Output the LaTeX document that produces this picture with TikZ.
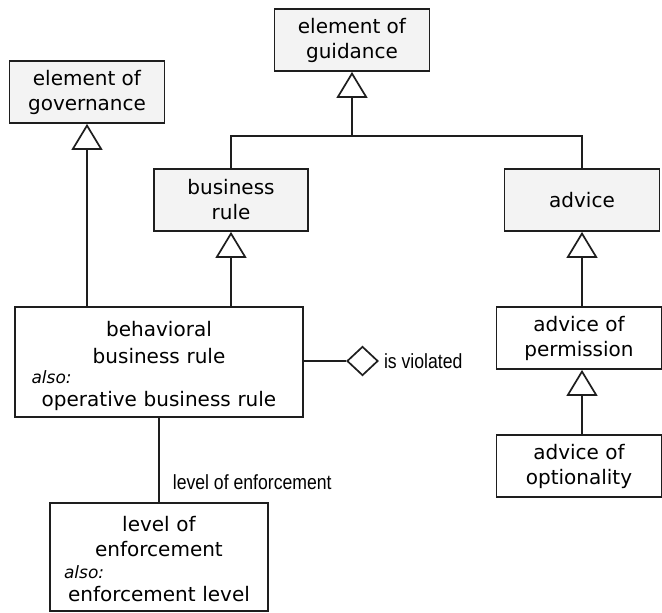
\documentclass[tikz,border=0pt]{standalone}
\usepackage{fontspec}
\setmainfont{DejaVu Sans}
\newfontfamily\narrowfont{Liberation Sans}[FakeStretch=0.86]
\usetikzlibrary{arrows.meta,shapes.geometric}

\definecolor{boxgray}{HTML}{F3F3F3}
\definecolor{linegray}{HTML}{1E1E1E}

\begin{document}
\begin{tikzpicture}[
  x=1pt, y=-1pt,
  box/.style={draw=linegray, line width=1.8pt, align=center, inner sep=0pt,
    minimum width=155pt, minimum height=62pt,
    font=\fontsize{20}{25}\selectfont},
  gbox/.style={box, fill=boxgray},
  gen/.style={-{Triangle[open, length=26pt, width=31pt, fill=white]}, line width=1.7pt, draw=linegray},
  link/.style={line width=1.7pt, draw=linegray},
  lbl/.style={font=\narrowfont\fontsize{20.5}{23}\selectfont, inner sep=0pt}
]
\useasboundingbox (0,0) rectangle (662,613);

\node[gbox] (gov) at (87,92) {element of\\governance};
\node[gbox] (guid) at (352,40) {element of\\guidance};
\node[gbox, minimum width=154pt] (brule) at (231,200) {business\\rule};
\node[gbox] (adv) at (582,200) {advice};
\node[box, minimum width=288pt, minimum height=110pt, text width=255pt] (bbr) at (159,362)
  {\rule{0pt}{23pt}behavioral\\[2pt]business rule\\[-5pt]\makebox[\linewidth][l]{\fontsize{17}{20}\selectfont\itshape also:}\\[-2pt]operative business rule};
\node[box, minimum width=165pt] (perm) at (579,338) {advice of\\permission};
\node[box, minimum width=165pt] (opt) at (579,466) {advice of\\optionality};
\node[box, minimum width=218pt, minimum height=108pt, text width=190pt] (loe) at (159,557)
  {\rule{0pt}{20pt}level of\\enforcement\\[-3pt]\makebox[\linewidth][l]{\fontsize{17}{20}\selectfont\itshape also:}\\[-2pt]enforcement level};
\node[draw=linegray, line width=1.7pt, diamond, fill=white, inner sep=0pt,
  minimum width=31pt, minimum height=29pt] (viol) at (362.5,361) {};
\node[lbl, anchor=west] (violtxt) at ([xshift=5pt]viol.east) {is violated};
\coordinate (bus) at (352,136);

% generalizations
\draw[gen] (bbr.north -| gov.south) -- (gov.south);
\draw[gen] (bbr.north -| brule.south) -- (brule.south);
\draw[link] (brule.north) |- (bus) -| (adv.north);
\draw[gen] (bus) -- (guid.south);
\draw[gen] (perm.north -| adv.south) -- (adv.south);
\draw[gen] (opt.north -| adv.south) -- (perm.south -| adv.south);

% verb concept and role
\draw[link] (bbr.east |- viol) -- (viol.west);
\draw[link] (bbr.south) -- node[lbl, pos=0.85, anchor=base west, xshift=13pt] {level of enforcement} (loe.north);
\end{tikzpicture}
\end{document}
